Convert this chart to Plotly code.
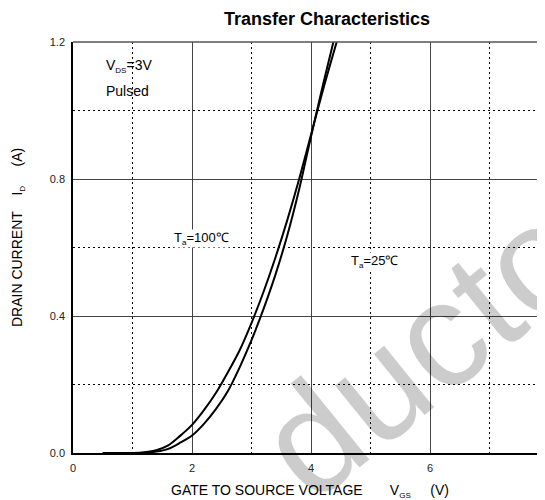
import plotly.graph_objects as go

# Gate-source voltage (V) and drain current (A)
vgs_100 = [0.5, 1.0, 1.2, 1.4, 1.6, 1.8, 2.0, 2.2, 2.4, 2.6, 2.8, 3.0, 3.2, 3.4, 3.6, 3.8, 4.0, 4.2, 4.43]
id_100 = [0.0, 0.0, 0.002, 0.008, 0.022, 0.05, 0.082, 0.125, 0.175, 0.235, 0.3, 0.38, 0.47, 0.57, 0.68, 0.8, 0.93, 1.06, 1.2]

vgs_25 = [0.5, 1.0, 1.2, 1.4, 1.6, 1.8, 2.0, 2.2, 2.4, 2.6, 2.8, 3.0, 3.2, 3.4, 3.6, 3.8, 4.0, 4.2, 4.375]
id_25 = [0.0, 0.0, 0.001, 0.004, 0.012, 0.03, 0.051, 0.085, 0.128, 0.18, 0.25, 0.33, 0.42, 0.52, 0.635, 0.77, 0.925, 1.075, 1.2]

x_ticks = [0, 2, 4, 6]
y_ticks = [0.0, 0.4, 0.8, 1.2]
y_tick_text = ["0.0", "0.4", "0.8", "1.2"]

FONT = "Liberation Sans, Arial, sans-serif"
NB = "\u00a0"

fig = go.Figure()
for xs, ys in [(vgs_100, id_100), (vgs_25, id_25)]:
    fig.add_trace(go.Scatter(
        x=xs, y=ys, mode="lines",
        line=dict(color="black", width=2, shape="spline", smoothing=0.8),
        showlegend=False, hoverinfo="skip"))

axis_common = dict(
    showgrid=True, gridcolor="#444444", gridwidth=1,
    showline=True, linecolor="black", linewidth=1.5,
    zeroline=False, ticks="", ticklen=0,
    tickfont=dict(family=FONT, size=11, color="#222222"),
    minor=dict(showgrid=True, gridcolor="black", gridwidth=1, griddash="2px,3px"),
)

fig.update_xaxes(range=[0, 7.93], tickvals=x_ticks, ticktext=[str(v) for v in x_ticks],
                 minor_dtick=1, minor_tick0=0, ticklabelstandoff=4, **axis_common)
fig.update_yaxes(range=[0, 1.2], tickvals=y_ticks, ticktext=y_tick_text,
                 minor_dtick=0.2, minor_tick0=0, ticklabelstandoff=4, **axis_common)

# top border
fig.add_shape(type="line", xref="paper", yref="paper", x0=0, x1=1, y0=1, y1=1,
              line=dict(color="#555555", width=1.5))

sub = lambda s: f"<sub><span style='font-size:8px'>{s}</span></sub>"

annotations = [
    # faint watermark fragment visible in the reference
    dict(text="ductor", xref="paper", yref="paper", x=0.781, y=0.29,
         xanchor="center", yanchor="middle", textangle=-39, showarrow=False,
         font=dict(family=FONT, size=150, color="rgba(0,0,0,0.2)")),
    dict(text="<b>Transfer Characteristics</b>", xref="paper", yref="paper",
         x=0.538, y=1.056, xanchor="center", yanchor="middle", showarrow=False,
         font=dict(family=FONT, size=18, color="black")),
    dict(text="GATE TO SOURCE VOLTAGE" + NB * 7 + "V" + sub("GS") + NB * 5 + "(V)",
         xref="paper", yref="paper", x=0.502, y=-0.0925, xanchor="center", yanchor="middle",
         showarrow=False, font=dict(family=FONT, size=14, color="black")),
    dict(text="DRAIN CURRENT" + NB * 4 + "I" + sub("D") + NB * 5 + "(A)",
         xref="paper", yref="paper", x=-0.1165, y=0.523, xanchor="center", yanchor="middle",
         textangle=-90, showarrow=False, font=dict(family=FONT, size=14, color="black")),
    dict(text="V" + sub("DS") + "=3V", x=0.52, y=1.13, xanchor="left", yanchor="middle",
         showarrow=False, font=dict(family=FONT, size=14, color="black")),
    dict(text="Pulsed", x=0.52, y=1.058, xanchor="left", yanchor="middle",
         showarrow=False, font=dict(family=FONT, size=14, color="black")),
    dict(text="T" + sub("a") + "=100℃", x=1.68, y=0.625, xanchor="left", yanchor="middle",
         showarrow=False, bgcolor="white", borderpad=0, font=dict(family=FONT, size=13, color="black")),
    dict(text="T" + sub("a") + "=25℃", x=4.655, y=0.56, xanchor="left", yanchor="middle",
         showarrow=False, bgcolor="white", borderpad=0, font=dict(family=FONT, size=13, color="black")),
]

fig.update_layout(
    width=537, height=492,
    margin=dict(l=65, r=0, t=34, b=47),
    paper_bgcolor="white", plot_bgcolor="white",
    annotations=annotations,
    font=dict(family=FONT),
)

fig.write_html("out.html")
